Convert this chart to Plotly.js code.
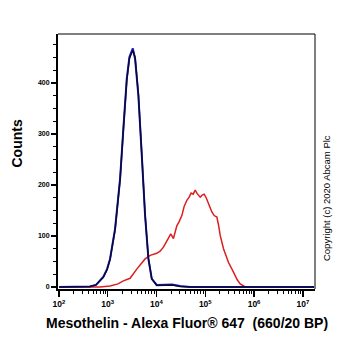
<!DOCTYPE html>
<html><head><meta charset="utf-8">
<script src="https://cdn.plot.ly/plotly-3.0.1.min.js"></script>
<style>html,body{margin:0;padding:0;background:#fff}#c{width:362px;height:351px}</style>
</head><body><div id="c"></div>
<script>
// Control (blue / black) histogram
const ctrlX = [100, 270, 433, 575, 813, 968, 1115, 1413, 1790, 2090, 2455, 2780, 3010, 3260, 3640, 4250, 4990, 5830, 6820, 8000, 10100, 15000, 20900, 30500, 49000, 17000000];
const blueY = [0, 0, 1, 4, 20, 35, 55, 114, 212, 310, 408, 451, 460, 468, 447, 375, 258, 140, 55, 16, 4, 5, 5, 2, 0, 0];
const blackY = [0, 0, 1, 4, 19, 34, 54, 112, 210, 308, 405, 448, 458, 464, 450, 378, 260, 142, 56, 16, 3, 3, 4, 1, 0, 0];
// Mesothelin stained (red) histogram
const redX = [100, 695, 1115, 1625, 2090, 2870, 3940, 4600, 5830, 7400, 10100, 11860, 13870, 16250, 17530, 19600, 22200, 26100, 29100, 33100, 36900, 41900, 46700, 51300, 56500, 62100, 68200, 78600, 86300, 94900, 104300, 116300, 136500, 152300, 173000, 188400, 202300, 236600, 268700, 299500, 379000, 451700, 521000, 660000, 17000000];
const redY = [0, 0, 2, 6, 12, 17, 35, 43, 55, 62, 66, 70, 78, 90, 97, 104, 95, 120, 128, 140, 158, 170, 176, 184, 182, 190, 183, 176, 180, 182, 175, 163, 147, 140, 137, 120, 101, 75, 58, 48, 29, 14, 6, 0, 0];
const yTicks = [0, 100, 200, 300, 400];
const xTickExp = [2, 3, 4, 5, 6, 7];

const xTickVals = xTickExp.map(e => Math.pow(10, e));
const xTickText = xTickExp.map(e => '10<sup>' + e + '</sup>');
const minorVals = [];
for (let e = 2; e < 7; e++) for (let k = 2; k <= 9; k++) minorVals.push(k * Math.pow(10, e));

const tfont = {family: 'Arial, Liberation Sans, sans-serif', size: 7, color: '#000', weight: 'bold'};
const xfont = {family: 'Arial, Liberation Sans, sans-serif', size: 8.5, color: '#000', weight: 'bold'};
const data = [
  {x: redX, y: redY, type: 'scatter', mode: 'lines', line: {color: 'rgb(220,30,30)', width: 1.5}, hoverinfo: 'none'},
  {x: ctrlX, y: blueY, type: 'scatter', mode: 'lines', line: {color: 'rgb(30,30,210)', width: 2}, hoverinfo: 'none'},
  {x: ctrlX, y: blackY, type: 'scatter', mode: 'lines', line: {color: '#0a0a30', width: 1.5}, hoverinfo: 'none'}
];
const layout = {
  width: 362, height: 351,
  margin: {l: 58, r: 47, t: 34, b: 62},
  paper_bgcolor: '#fff', plot_bgcolor: '#fff',
  showlegend: false,
  xaxis: {
    type: 'log', range: [1.98, 7.25], showgrid: false, zeroline: false,
    tickmode: 'array', tickvals: xTickVals, ticktext: xTickText,
    ticks: 'outside', ticklen: 6, tickwidth: 1.5, tickcolor: '#000',
    showline: true, linecolor: '#000', linewidth: 2,
    tickfont: xfont,
    minor: {tickmode: 'array', tickvals: minorVals, ticks: 'outside', ticklen: 3, tickwidth: 1, tickcolor: '#000', showgrid: false}
  },
  yaxis: {
    range: [-4, 496], showgrid: false, zeroline: false,
    tickmode: 'array', tickvals: yTicks,
    ticks: 'outside', ticklen: 5, tickwidth: 1.5, tickcolor: '#000',
    showline: true, linecolor: '#000', linewidth: 2,
    tickfont: tfont,
    minor: {dtick: 25, ticks: 'outside', ticklen: 3, tickwidth: 1, tickcolor: '#000', showgrid: false}
  },
  shapes: [
    {type: 'line', xref: 'paper', yref: 'paper', x0: 0, x1: 1, y0: 1, y1: 1, line: {color: '#000', width: 1}},
    {type: 'line', xref: 'paper', yref: 'paper', x0: 1, x1: 1, y0: 0, y1: 1, line: {color: '#000', width: 1}}
  ],
  annotations: [
    {text: 'Counts', xref: 'paper', yref: 'paper', x: -0.16, xanchor: 'center', y: 0.57, yanchor: 'middle', textangle: -90, showarrow: false,
     font: {family: 'Arial, Liberation Sans, sans-serif', size: 14, color: '#000', weight: 'bold'}},
    {text: 'Mesothelin - Alexa Fluor® 647  (660/20 BP)', xref: 'paper', yref: 'paper', x: 0.5, xanchor: 'center', y: -0.135, yanchor: 'middle', showarrow: false,
     font: {family: 'Arial, Liberation Sans, sans-serif', size: 14, color: '#000', weight: 'bold'}},
    {text: 'Copyright (c) 2020 Abcam Plc', xref: 'paper', yref: 'paper', x: 1.047, xanchor: 'center', y: 0.357, yanchor: 'middle', textangle: -90, showarrow: false,
     font: {family: 'Arial, Liberation Sans, sans-serif', size: 9.5, color: '#000'}}
  ]
};
Plotly.newPlot('c', data, layout, {staticPlot: true, displayModeBar: false});
</script></body></html>
